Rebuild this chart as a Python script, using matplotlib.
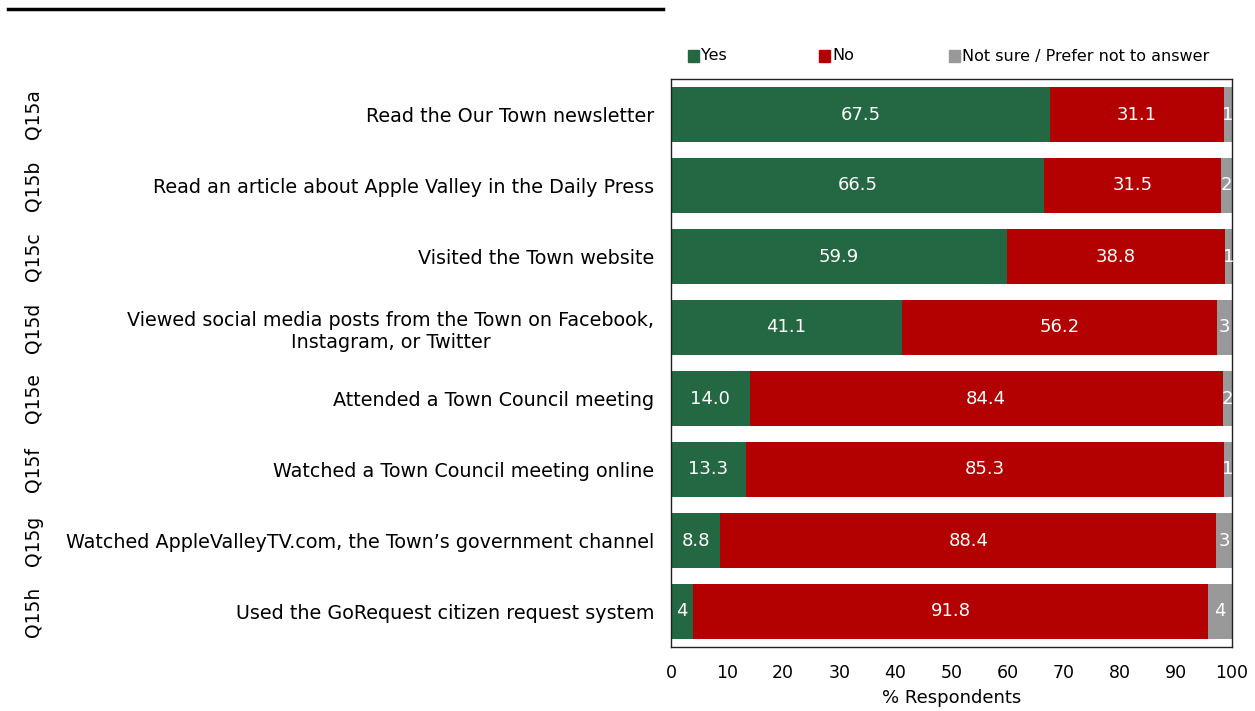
import matplotlib
matplotlib.use("Agg")
import matplotlib.pyplot as plt
from matplotlib.lines import Line2D
from matplotlib.transforms import blended_transform_factory
import numpy as np

codes = ["Q15a", "Q15b", "Q15c", "Q15d", "Q15e", "Q15f", "Q15g", "Q15h"]
categories = [
    "Read the Our Town newsletter",
    "Read an article about Apple Valley in the Daily Press",
    "Visited the Town website",
    "Viewed social media posts from the Town on Facebook,\nInstagram, or Twitter",
    "Attended a Town Council meeting",
    "Watched a Town Council meeting online",
    "Watched AppleValleyTV.com, the Town\u2019s government channel",
    "Used the GoRequest citizen request system",
]
yes = [67.5, 66.5, 59.9, 41.1, 14.0, 13.3, 8.8, 3.9]
no = [31.1, 31.5, 38.8, 56.2, 84.4, 85.3, 88.4, 91.8]
unsure = [1.4, 2.0, 1.3, 2.7, 1.6, 1.4, 2.8, 4.3]
series_names = ["Yes", "No", "Not sure / Prefer not to answer"]
colors = ["#236843", "#B30000", "#999999"]
xticks = [0, 10, 20, 30, 40, 50, 60, 70, 80, 90, 100]

plt.rcParams['font.family'] = ['DejaVu Sans']

fig = plt.figure(figsize=(12.55, 7.11), dpi=100)
ax = fig.add_axes([671/1255, 1-647/711, (1232-671)/1255, (647-79)/711])

y = np.arange(len(categories))
h = 0.78
left = np.zeros(len(categories))
for vals, col in zip([yes, no, unsure], colors):
    vals = np.array(vals)
    ax.barh(y, vals, left=left, height=h, color=col, edgecolor="none")
    for yi, v, l in zip(y, vals, left):
        txt = f"{v:.0f}" if v < 5 else f"{v:.1f}"
        ax.text(l + v/2, yi, txt, ha="center", va="center", color="white",
                fontsize=13, clip_on=False)
    left += vals

ax.set_xlim(0, 100)
ax.set_ylim(len(categories) - 0.5, -0.5)
ax.set_yticks(y)
ax.set_yticklabels(categories, fontsize=13.8, multialignment="center")
ax.set_xticks(xticks)
ax.set_xticklabels([str(t) for t in xticks], fontsize=12.5)
ax.tick_params(axis="both", length=0)
ax.tick_params(axis="y", pad=12)
ax.tick_params(axis="x", pad=12)
ax.set_xlabel("% Respondents", fontsize=13, labelpad=5)
for s in ax.spines.values():
    s.set_linewidth(1.0)
    s.set_color("#222222")

trans = blended_transform_factory(fig.transFigure, ax.transData)
for yi, c in zip(y, codes):
    ax.text(33/1255, yi, c, rotation=90, ha="center", va="center", fontsize=13.5,
            transform=trans)

# legend entries placed with equal spacing
leg_x = [688, 819, 949]
for lx, name, col in zip(leg_x, series_names, colors):
    fig.patches.append(plt.Rectangle((lx/1255, 1-62/711), 11/1255, 12/711, color=col,
                                     transform=fig.transFigure, figure=fig))
    fig.text((lx + 13)/1255, 1-56/711, name, ha="left", va="center", fontsize=11.5)

fig.add_artist(Line2D([8/1255, 663/1255], [1-9/711, 1-9/711], color="black", lw=2.5,
                      transform=fig.transFigure))

fig.savefig("out.png", dpi=100)
